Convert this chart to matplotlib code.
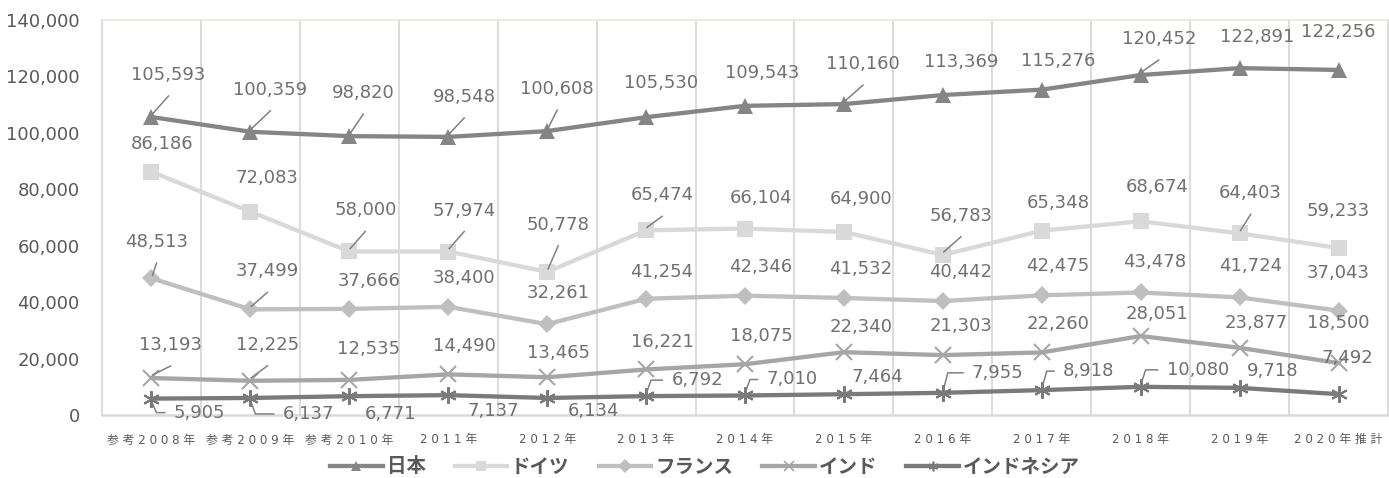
import matplotlib
matplotlib.use("Agg")
import matplotlib.pyplot as plt
from matplotlib.lines import Line2D
from matplotlib.transforms import IdentityTransform

categories = ["参考2008年", "参考2009年", "参考2010年", "2011年", "2012年", "2013年",
              "2014年", "2015年", "2016年", "2017年", "2018年", "2019年", "2020年推計"]
series_names = ["日本", "ドイツ", "フランス", "インド", "インドネシア"]
japan = [105593, 100359, 98820, 98548, 100608, 105530, 109543, 110160, 113369, 115276, 120452, 122891, 122256]
germany = [86186, 72083, 58000, 57974, 50778, 65474, 66104, 64900, 56783, 65348, 68674, 64403, 59233]
france = [48513, 37499, 37666, 38400, 32261, 41254, 42346, 41532, 40442, 42475, 43478, 41724, 37043]
india = [13193, 12225, 12535, 14490, 13465, 16221, 18075, 22340, 21303, 22260, 28051, 23877, 18500]
indonesia = [5905, 6137, 6771, 7137, 6134, 6792, 7010, 7464, 7955, 8918, 10080, 9718, 7492]
yticks = [0, 20000, 40000, 60000, 80000, 100000, 120000, 140000]

# styles
colors = ["#858585", "#D9D9D9", "#BFBFBF", "#A6A6A6", "#7A7A7A"]
markers = ["^", "s", "D", "x", (6, 2, 0)]
msizes = [11, 11, 9, 11, 12]

# label offsets (pixels, image-down y) and leader flags
lab_off = [
    [(17, -42), (20, -42), (14, -43), (16, -40), (10, -42), (15, -34), (17, -33), (19, -40), (18, -33), (16, -29), (18, -36), (18, -31), (0, -38)],
    [(11, -28), (17, -34), (16, -41), (16, -41), (11, -47), (16, -35), (16, -31), (17, -33), (18, -39), (16, -28), (16, -34), (11, -40), (0, -37)],
    [(5, -36), (17, -38), (20, -28), (16, -29), (11, -31), (16, -27), (16, -29), (17, -29), (18, -29), (16, -29), (14, -30), (11, -31), (0, -38)],
    [(19, -33), (17, -36), (19, -31), (16, -28), (11, -24), (16, -27), (16, -28), (17, -25), (18, -29), (16, -28), (16, -22), (17, -25), (0, -40)],
    [(48, 14), (58, 16), (41, 18), (45, 16), (46, 13), (51, -16), (47, -16), (33, -17), (55, -20), (47, -19), (57, -17), (33, -17), (9, -36)],
]
leaders = [
    [1, 1, 1, 1, 1, 0, 0, 1, 0, 0, 1, 0, 0],
    [0, 0, 1, 1, 1, 1, 0, 0, 1, 0, 0, 1, 0],
    [1, 1, 0, 0, 0, 0, 0, 0, 0, 0, 0, 0, 0],
    [1, 1, 0, 0, 0, 0, 0, 0, 0, 0, 0, 0, 0],
    [1, 1, 0, 0, 0, 1, 1, 0, 1, 1, 1, 0, 0],
]

W, H = 1389, 478
fig = plt.figure(figsize=(W / 100, H / 100), dpi=100)
ax = fig.add_axes([102 / W, (H - 415.3) / H, (1388 - 102) / W, (415.3 - 19.8) / H])

data = [japan, germany, france, india, indonesia]
x = list(range(len(categories)))
for k, (name, vals) in enumerate(zip(series_names, data)):
    ax.plot(x, vals, color=colors[k], lw=3.1, marker=markers[k], ms=msizes[k],
            mew=1.5 if k >= 3 else 0, mec=colors[k], mfc=colors[k], label=name,
            zorder=3 + (4 - k) * 0.1, solid_capstyle="round")

ax.set_xlim(-0.5, len(categories) - 0.5)
ax.set_ylim(0, 140000)
ax.set_yticks(yticks)
ax.set_yticklabels([f"{v:,}" for v in yticks], fontsize=13, color="#595959", family="DejaVu Sans")
ax.set_xticks(x)
ax.set_xticklabels([" ".join(list(c)) for c in categories], fontsize=8.6, color="#595959",
                   family=["DejaVu Sans", "Noto Sans CJK JP"])
ax.tick_params(axis="both", length=0)
ax.tick_params(axis="y", pad=16)
ax.tick_params(axis="x", pad=13)
for b in [i + 0.5 for i in range(len(categories) - 1)]:
    ax.axvline(b, color="#D9D9D9", lw=1.3, zorder=1)
for s in ["left", "right"]:
    ax.spines[s].set_color("#D9D9D9")
    ax.spines[s].set_linewidth(1.3)
ax.spines["top"].set_color("#EBE8E1")
ax.spines["top"].set_linewidth(1.3)
ax.spines["bottom"].set_color("#D9D9D9")
ax.spines["bottom"].set_linewidth(1.8)

texts = []
for k, vals in enumerate(data):
    for i, v in enumerate(vals):
        dx, dy = lab_off[k][i]
        t = ax.annotate(f"{v:,}", xy=(i, v), xytext=(dx, -dy), textcoords="offset pixels",
                        ha="center", va="center", fontsize=13, color="#707070",
                        family="DejaVu Sans", zorder=6, annotation_clip=False)
        texts.append((k, i, v, t))

fig.canvas.draw()
idt = IdentityTransform()
for k, i, v, t in texts:
    if not leaders[k][i]:
        continue
    px, py = ax.transData.transform((i, v))
    bb = t.get_window_extent()
    cx, cy = (bb.x0 + bb.x1) / 2, (bb.y0 + bb.y1) / 2
    if k < 4:
        xs = [cx, px + 1]
        ys = [cy - 21, py + 3]
    else:
        sgn = 1 if cy > py else -1
        left = bb.x0 - 9
        xs = [px + 1, px + 5, left]
        ys = [py + sgn * 5, cy, cy]
    fig.add_artist(Line2D(xs, ys, transform=idt, color="#808080", lw=1.1, zorder=7))

handles = [Line2D([0], [0], color=colors[k], lw=3.1, marker=markers[k], ms=7,
                  mew=1.2 if k >= 3 else 0, mec=colors[k], mfc=colors[k])
           for k in range(5)]
leg = fig.legend(handles, series_names, loc="center", bbox_to_anchor=(705 / W, (H - 467) / H),
                 ncol=5, frameon=False, handlelength=2.7, handletextpad=0.2, columnspacing=1.5,
                 prop={"family": ["Noto Sans CJK JP"], "weight": "bold", "size": 14})
for t in leg.get_texts():
    t.set_color("#595959")

fig.savefig("out.png", dpi=100)
